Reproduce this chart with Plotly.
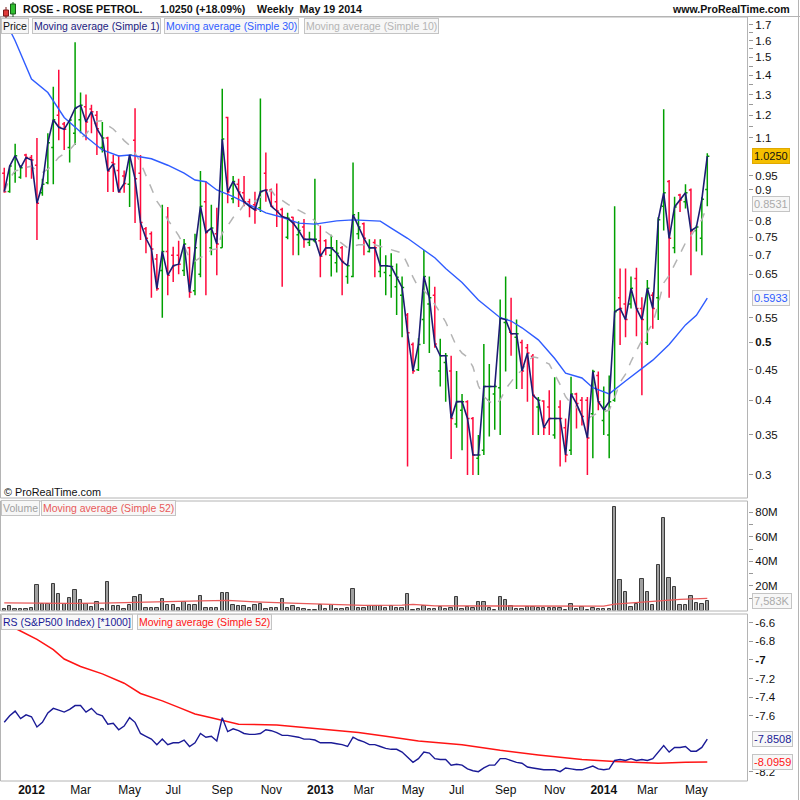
import plotly.graph_objects as go
import pandas as pd
import math

# ---------------- data ----------------
first_week = "2011-11-28"
n_weeks = 130
dates = pd.date_range(first_week, periods=n_weeks, freq="7D")

opens = [0.96,0.895,0.96,0.945,1.03,1.02,0.99,0.89,0.925,1.06,
         1.20,1.16,1.06,1.12,1.18,1.24,1.23,1.20,1.06,1.10,
         1.00,0.97,0.95,0.92,1.09,0.96,0.775,0.76,0.69,0.66,
         0.71,0.70,0.70,0.66,0.72,0.61,0.65,0.86,0.72,0.76,
         0.72,1.19,0.87,0.92,0.89,0.86,0.85,0.84,0.96,0.90,
         0.86,0.835,0.75,0.81,0.757,0.78,0.735,0.74,0.74,0.74,
         0.70,0.68,0.72,0.645,0.645,0.76,0.79,0.71,0.735,0.657,
         0.655,0.647,0.62,0.60,0.556,0.496,0.45,0.546,0.58,0.60,
         0.448,0.463,0.448,0.365,0.385,0.398,0.373,0.32,0.33,0.40,
         0.41,0.42,0.54,0.52,0.51,0.50,0.49,0.474,0.39,0.399,
         0.39,0.35,0.39,0.36,0.33,0.41,0.40,0.40,0.38,0.44,
         0.37,0.35,0.40,0.594,0.58,0.58,0.64,0.57,0.50,0.60,
         0.594,0.845,0.93,0.72,0.883,0.86,0.90,0.77,0.747,0.902]
highs = [0.98,0.99,1.075,0.99,1.035,1.03,1.10,0.94,1.12,1.34,
         1.43,1.17,1.18,1.59,1.31,1.30,1.25,1.22,1.17,1.105,
         1.03,1.03,0.97,1.03,1.233,1.03,0.78,0.767,0.703,0.85,
         0.843,0.723,0.74,0.745,0.723,0.76,0.968,0.93,0.85,0.84,
         1.33,1.193,0.95,0.94,0.95,0.87,0.894,1.28,1.04,0.905,
         0.923,0.84,0.824,0.812,0.798,0.805,0.766,0.94,0.785,0.744,
         0.757,0.742,0.725,0.675,1.00,0.827,0.794,0.744,0.744,0.744,
         0.70,0.705,0.678,0.645,0.56,0.50,0.508,0.714,0.645,0.62,
         0.507,0.48,0.475,0.448,0.41,0.40,0.375,0.35,0.497,0.46,
         0.425,0.59,0.645,0.594,0.546,0.505,0.497,0.478,0.405,0.40,
         0.416,0.437,0.40,0.373,0.438,0.412,0.405,0.405,0.45,0.447,
         0.422,0.44,0.845,0.665,0.665,0.645,0.667,0.595,0.636,0.607,
         0.81,1.228,0.935,0.877,0.887,0.92,0.905,0.785,0.875,1.037]
lows = [0.89,0.89,0.925,0.94,0.945,0.94,0.742,0.88,0.92,0.92,
        1.09,1.05,1.00,1.07,1.12,1.09,1.12,1.03,1.04,0.893,
        0.893,0.89,0.89,0.843,0.792,0.742,0.705,0.594,0.61,0.55,
        0.60,0.631,0.65,0.646,0.594,0.60,0.643,0.60,0.70,0.648,
        0.72,0.855,0.855,0.843,0.845,0.81,0.79,0.827,0.86,0.843,
        0.78,0.62,0.744,0.70,0.70,0.72,0.725,0.735,0.643,0.70,
        0.645,0.655,0.60,0.627,0.643,0.744,0.70,0.707,0.643,0.643,
        0.60,0.594,0.556,0.51,0.31,0.443,0.448,0.497,0.48,0.49,
        0.422,0.398,0.319,0.36,0.33,0.30,0.30,0.30,0.324,0.348,
        0.357,0.35,0.447,0.475,0.418,0.418,0.398,0.35,0.35,0.35,
        0.35,0.345,0.31,0.315,0.324,0.359,0.363,0.30,0.32,0.385,
        0.35,0.32,0.398,0.495,0.51,0.57,0.512,0.408,0.495,0.527,
        0.545,0.77,0.594,0.705,0.827,0.838,0.648,0.71,0.70,0.845]
closes = [0.894,0.987,1.027,0.98,1.02,1.01,0.855,0.92,1.08,1.18,
          1.146,1.137,1.178,1.233,1.247,1.17,1.217,1.14,1.10,0.968,
          0.995,0.893,0.923,1.03,0.94,0.794,0.747,0.717,0.615,0.71,
          0.648,0.672,0.676,0.731,0.607,0.72,0.845,0.764,0.777,0.731,
          1.095,0.893,0.93,0.893,0.86,0.845,0.833,0.894,0.90,0.845,
          0.83,0.812,0.807,0.792,0.77,0.744,0.744,0.744,0.697,0.72,
          0.72,0.705,0.683,0.672,0.818,0.78,0.747,0.72,0.72,0.672,
          0.672,0.67,0.643,0.618,0.519,0.448,0.496,0.645,0.594,0.497,
          0.475,0.475,0.373,0.398,0.398,0.373,0.324,0.324,0.422,0.422,
          0.422,0.549,0.546,0.517,0.517,0.448,0.48,0.408,0.40,0.36,
          0.373,0.373,0.373,0.324,0.41,0.395,0.376,0.346,0.447,0.398,
          0.386,0.398,0.563,0.57,0.546,0.616,0.57,0.546,0.616,0.57,
          0.802,0.89,0.747,0.843,0.866,0.89,0.769,0.78,0.868,1.025]

volume_m = [1.4,3.3,1.4,1.4,1.4,1.9,20.4,5.4,5.4,21.2,
            13.6,5.4,9.8,17.1,8.2,4.9,2.7,7.1,1.6,23.4,
            3.3,3.8,1.6,4.1,10.6,13.0,2.2,2.2,2.2,9.0,
            4.6,4.1,2.2,6.8,4.6,4.1,12.2,2.2,2.2,2.2,
            14.4,14.4,4.6,3.3,3.3,2.2,4.1,5.7,1.6,2.2,
            2.2,9.5,2.2,3.3,2.2,1.6,0.8,0.8,4.1,1.4,
            4.1,1.6,1.6,2.4,17.7,2.4,2.4,3.3,3.3,3.3,
            2.2,3.5,2.4,2.2,13.6,0.8,1.4,3.5,1.4,1.4,
            3.0,1.4,2.2,11.1,1.4,3.0,2.2,6.8,6.8,2.2,
            0.8,11.1,8.4,3.5,1.4,1.4,3.0,3.0,2.2,2.2,
            2.2,2.2,2.2,0.8,5.2,1.4,3.0,0.5,2.2,1.4,
            1.4,1.4,84.5,24.5,15.0,3.0,4.9,25.3,15.0,4.1,
            37.2,75.5,26.6,19.3,4.1,4.1,11.7,6.3,4.9,7.583]

rs = [-7.67,-7.60,-7.55,-7.63,-7.59,-7.61,-7.72,-7.67,-7.57,-7.52,
      -7.54,-7.56,-7.53,-7.49,-7.49,-7.56,-7.52,-7.58,-7.60,-7.69,
      -7.68,-7.75,-7.71,-7.62,-7.67,-7.79,-7.82,-7.85,-7.91,-7.85,
      -7.91,-7.89,-7.89,-7.86,-7.93,-7.89,-7.79,-7.83,-7.82,-7.87,
      -7.62,-7.77,-7.74,-7.76,-7.79,-7.80,-7.80,-7.79,-7.75,-7.76,
      -7.78,-7.81,-7.81,-7.82,-7.83,-7.85,-7.85,-7.86,-7.89,-7.89,
      -7.89,-7.90,-7.91,-7.93,-7.83,-7.86,-7.88,-7.91,-7.91,-7.93,
      -7.95,-7.96,-7.96,-7.99,-8.04,-8.10,-8.06,-7.99,-8.00,-8.06,
      -8.07,-8.07,-8.13,-8.12,-8.13,-8.17,-8.19,-8.20,-8.16,-8.13,
      -8.13,-8.06,-8.06,-8.08,-8.10,-8.11,-8.15,-8.16,-8.17,-8.18,
      -8.18,-8.18,-8.20,-8.16,-8.17,-8.18,-8.18,-8.16,-8.14,-8.17,
      -8.18,-8.17,-8.08,-8.07,-8.08,-8.06,-8.08,-8.07,-8.08,-8.06,
      -7.99,-7.92,-7.99,-7.94,-7.94,-7.93,-7.98,-7.98,-7.94,-7.8508]

# moving averages (week index, value)
ma30_idx = [0,1,2,5,8,11,15,18,21,23,27,30,33,35,37,39,42,45,48,51,54,57,61,64,69,71,
            74,77,79,81,84,87,91,93,95,98,101,103,106,108,111,114,117,119,122,125,127,129]
ma30_val = [1.74,1.67,1.60,1.38,1.31,1.19,1.105,1.05,1.026,1.03,1.015,0.99,0.96,0.935,0.929,
            0.90,0.877,0.85,0.824,0.81,0.792,0.789,0.799,0.802,0.798,0.777,0.747,0.714,0.693,
            0.665,0.63,0.589,0.55,0.543,0.529,0.505,0.47,0.444,0.436,0.42,0.41,0.431,0.452,
            0.467,0.496,0.535,0.555,0.5933]
volma_idx = [0,5,12,18,24,30,36,41,46,54,60,66,73,75,79,91,98,102,110,112,115,119,122,124,129]
volma_val = [6.2,5.8,5.8,6.0,6.4,7.4,7.8,8.2,7.0,5.8,5.0,4.2,4.4,5.0,3.8,3.6,4.0,3.8,3.5,
             5.2,6.2,7.3,8.6,9.1,9.9]
rsma_idx = [0,2,6,9,11,14,18,22,25,29,32,35,38,40,43,50,54,59,65,70,76,84,91,98,106,112,
            117,120,125,129]
rsma_val = [-6.58,-6.66,-6.78,-6.89,-6.99,-7.07,-7.15,-7.25,-7.36,-7.44,-7.51,-7.58,-7.62,
            -7.65,-7.69,-7.70,-7.72,-7.75,-7.78,-7.82,-7.87,-7.91,-7.97,-8.02,-8.07,-8.09,
            -8.10,-8.11,-8.10,-8.0959]

x_tick_dates = ["2012-01-02","2012-03-05","2012-05-07","2012-07-02","2012-09-03","2012-11-05",
                "2013-01-07","2013-03-04","2013-05-06","2013-07-01","2013-09-02","2013-11-04",
                "2014-01-06","2014-03-03","2014-05-05"]
x_tick_text = ["<b>2012</b>","Mar","May","Jul","Sep","Nov","<b>2013</b>","Mar","May","Jul",
               "Sep","Nov","<b>2014</b>","Mar","May"]

price_ticks = [0.3,0.35,0.4,0.45,0.5,0.55,0.65,0.7,0.75,0.8,0.9,0.95,
               1.1,1.2,1.3,1.4,1.5,1.6,1.7,1.15,1.25,1.35,1.45,1.55,1.65]
price_tick_text = ["0.3","0.35","0.4","0.45","<b>0.5</b>","0.55","0.65","0.7","0.75",
                   "0.8","0.9","0.95","1.1","1.2","1.3","1.4","1.5","1.6",
                   "1.7","","","","","",""]
vol_ticks = [10,20,30,40,50,60,70,80]
vol_tick_text = ["","20M","","40M","","60M","","80M"]
rs_ticks = [-6.6,-6.8,-7.0,-7.2,-7.4,-7.6,-8.2]
rs_tick_text = ["-6.6","-6.8","<b>-7</b>","-7.2","-7.4","-7.6","-8.2"]

last_price_label = "1.0250"
ma10_label, ma30_label = "0.8531", "0.5933"
vol_label, vol_label_val = "7,583K", 7.583
rs_label, rsma_label = "-7.8508", "-8.0959"

# ---------------- layout helpers (pixels -> paper) ----------------
W, H = 800, 800
LX, RX, TY, BY = 0, 748, 17, 781
def fx(p): return (p - LX) / (RX - LX)
def fy(p): return (BY - p) / (BY - TY)

FONT = "Liberation Sans, Arial, Helvetica, sans-serif"
GREEN, RED = "#00a000", "#ff0a3c"

ma10 = pd.Series(closes).rolling(10, min_periods=1).mean()

fig = go.Figure()
fig.add_trace(go.Ohlc(x=dates, open=opens, high=highs, low=lows, close=closes,
                      increasing=dict(line=dict(color=GREEN, width=1.5)),
                      decreasing=dict(line=dict(color=RED, width=1.5)),
                      tickwidth=0.38, xaxis="x", yaxis="y", hoverinfo="skip", showlegend=False))
fig.add_trace(go.Scatter(x=dates, y=ma10, mode="lines", xaxis="x", yaxis="y",
                         line=dict(color="#b4b4b4", width=1.5, dash="dash"), showlegend=False))
fig.add_trace(go.Scatter(x=dates[ma30_idx], y=ma30_val, mode="lines", xaxis="x", yaxis="y",
                         line=dict(color="#2f5cff", width=1.4), showlegend=False))
fig.add_trace(go.Scatter(x=dates, y=closes, mode="lines", xaxis="x", yaxis="y",
                         line=dict(color="#1c1c72", width=1.6), showlegend=False))

fig.add_trace(go.Bar(x=dates, y=volume_m, xaxis="x", yaxis="y2",
                     marker=dict(color="#a0a0a0", line=dict(color="#3c3c3c", width=1)),
                     width=4.3 * 86400000, showlegend=False))
fig.add_trace(go.Scatter(x=dates[volma_idx], y=volma_val, mode="lines", xaxis="x", yaxis="y2",
                         line=dict(color="#e85a5a", width=1.3), showlegend=False))

fig.add_trace(go.Scatter(x=dates[rsma_idx], y=rsma_val, mode="lines", xaxis="x", yaxis="y3",
                         line=dict(color="#ff1414", width=1.5), showlegend=False))
fig.add_trace(go.Scatter(x=dates, y=rs, mode="lines", xaxis="x", yaxis="y3",
                         line=dict(color="#1a1a96", width=1.4), showlegend=False))

axis_common = dict(showgrid=False, zeroline=False, side="right", anchor="x",
                   ticks="outside", ticklen=4, tickcolor="#999999",
                   tickfont=dict(family=FONT, size=11.5, color="#111111"), showline=False)

fig.update_layout(
    width=W, height=H, autosize=False,
    margin=dict(l=LX, r=W - RX, t=TY, b=H - BY, pad=0),
    paper_bgcolor="white", plot_bgcolor="white",
    hovermode=False, showlegend=False, bargap=0,
    font=dict(family=FONT, size=12, color="#111111"),
    xaxis=dict(type="date", range=["2011-11-22 13:00", "2014-07-10 07:00"], anchor="y3",
               domain=[0, 1], showgrid=False, zeroline=False, showline=False,
               tickvals=x_tick_dates, ticktext=x_tick_text, ticks="",
               tickfont=dict(family=FONT, size=12, color="#111111"),
               rangeslider=dict(visible=False)),
    yaxis=dict(type="log", domain=[fy(498), 1.0],
               range=[math.log10(0.2745), math.log10(1.753)],
               tickvals=price_ticks, ticktext=price_tick_text, **axis_common),
    yaxis2=dict(domain=[fy(610.5), fy(501)], range=[0, 89.2],
                tickvals=vol_ticks, ticktext=vol_tick_text, **axis_common),
    yaxis3=dict(domain=[0, fy(614)], range=[-8.3003, -6.5066],
                tickvals=rs_ticks, ticktext=rs_tick_text, **axis_common),
)

# ---------------- frames ----------------
FR = "#b4b4b4"
shapes = []
def rect(x0, y0, x1, y1, color=FR, fill=None, width=1):
    shapes.append(dict(type="rect", xref="paper", yref="paper", x0=fx(x0), x1=fx(x1),
                       y0=fy(y1), y1=fy(y0), line=dict(color=color, width=width),
                       fillcolor=fill if fill else "rgba(0,0,0,0)", layer="above"))
def line(x0, y0, x1, y1, color=FR, width=1):
    shapes.append(dict(type="line", xref="paper", yref="paper", x0=fx(x0), x1=fx(x1),
                       y0=fy(y0), y1=fy(y1), line=dict(color=color, width=width), layer="above"))

rect(0.5, 17, 747.5, 498)
rect(0.5, 501, 747.5, 611)
rect(0.5, 614, 747.5, 781)
line(0, 16.5, 800, 16.5)
line(798.5, 0, 798.5, 800)
# candle icon
line(6, 7, 6, 19, color="#7a1a1a", width=1)
rect(3.5, 10, 8.5, 16, color="#7a1a1a", fill="#e03a3a")
line(13, 2, 13, 17, color="#1a5a1a", width=1)
rect(10.5, 4, 15.5, 14, color="#1a5a1a", fill="#30c030")
fig.update_layout(shapes=shapes)

# ---------------- texts ----------------
ann = []
def text(x, y, s, anchor="left", size=12, color="#111111", bold=False, **kw):
    ann.append(dict(xref="paper", yref="paper", x=fx(x), y=fy(y), text=f"<b>{s}</b>" if bold else s,
                    showarrow=False, xanchor=anchor, yanchor="middle",
                    font=dict(family=FONT, size=size, color=color), **kw))

text(21, 9, "ROSE - ROSE PETROL.", bold=True, size=10.7)
text(158, 9, "1.0250 (+18.09%)", bold=True, size=10.7)
text(255, 9, "Weekly  May 19 2014", bold=True, size=10.7)
text(792, 9, "www.ProRealTime.com", anchor="right", bold=True, size=10.6)
text(2, 492, "© ProRealTime.com", size=10.8)

box = dict(bgcolor="#f7f7f7", bordercolor="#c4c4c4", borderwidth=1, borderpad=1)
LS = 10.5
text(1, 26.5, "Price", size=LS, **box)
text(32, 26.5, "Moving average (Simple 1)", size=LS, color="#1a1a80", **box)
text(164, 26.5, "Moving average (Simple 30)", size=LS, color="#2f5cff", **box)
text(304, 26.5, "Moving average (Simple 10)", size=LS, color="#b4b4b4", **box)
text(1, 508, "Volume", size=LS, color="#a0a0a0", **box)
text(41, 508, "Moving average (Simple 52)", size=LS, color="#e85a5a", **box)
text(1, 622, "RS (S&P500 Index) [*1000]", size=LS, color="#1a1a96", **box)
text(137, 622, "Moving average (Simple 52)", size=LS, color="#ff1414", **box)

def vbox(yref, yval, s, color, bg="#f7f7f7", border="#c4c4c4"):
    ann.append(dict(xref="paper", yref=yref, x=1, y=yval, xanchor="left", yanchor="middle",
                    xshift=4, text=s, showarrow=False, bgcolor=bg, bordercolor=border,
                    borderwidth=1, borderpad=1, font=dict(family=FONT, size=11, color=color)))

vbox("y", math.log10(1.025), last_price_label, "#111111", bg="#f5bf00", border="#e0a800")
vbox("y", math.log10(0.8531), ma10_label, "#aaaaaa")
vbox("y", math.log10(0.5933), ma30_label, "#2f5cff")
vbox("y2", vol_label_val, vol_label, "#aaaaaa")
vbox("y3", -7.8508, rs_label, "#1a1a96")
vbox("y3", -8.0959, rsma_label, "#ff1414")
fig.update_layout(annotations=ann)

fig.write_html("out.html", config={"displayModeBar": False},
               post_script="document.body.style.margin='0';")
